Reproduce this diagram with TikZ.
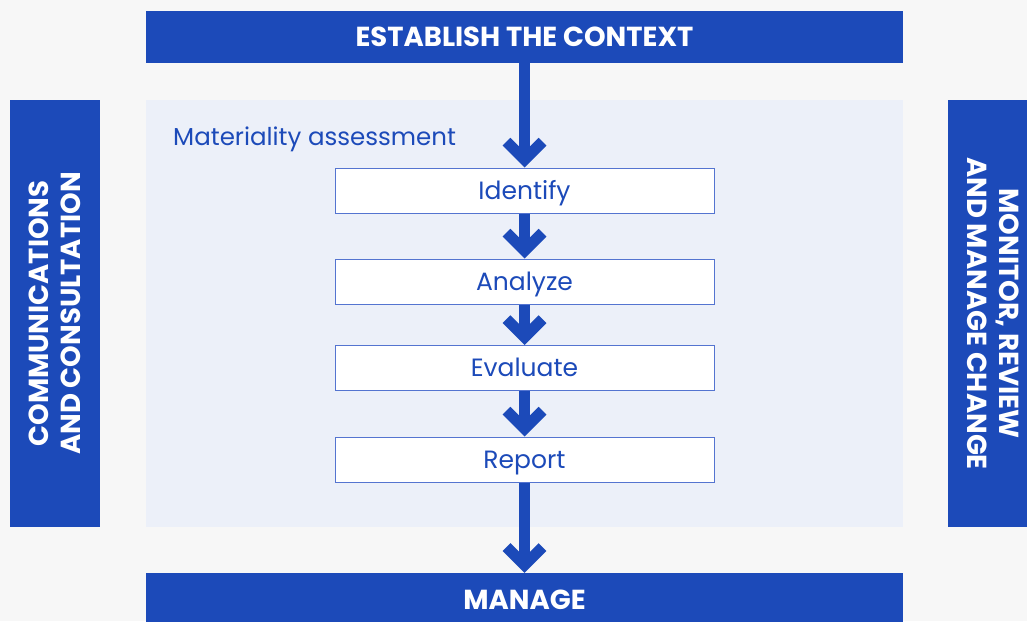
\documentclass[tikz,border=0pt]{standalone}
\usepackage{fontspec}
\setmainfont{Poppins}
\usetikzlibrary{arrows.meta}

\definecolor{riskblue}{RGB}{28,74,185}
\definecolor{panelblue}{RGB}{236,240,249}
\definecolor{pagegray}{RGB}{247,247,247}
\definecolor{edgeblue}{RGB}{84,116,208}

\tikzset{
  banner/.style={fill=riskblue, text=white, inner sep=0pt, text height=19.5pt, text depth=0pt,
    font=\bfseries\fontsize{27.5}{32}\selectfont},
  sidebar/.style={fill=riskblue, text=white, inner sep=0pt, align=center,
    font=\bfseries\fontsize{27.5}{31.5}\selectfont},
  stage/.style={draw=edgeblue, line width=1pt, fill=white, text=riskblue, inner sep=0pt,
    minimum width=379pt, minimum height=45pt, text height=17.5pt, text depth=0pt,
    font=\fontsize{25}{29}\selectfont},
  flow/.style={draw=riskblue, line width=11pt, -{Straight Barb[length=18pt, width=36pt]}}
}

\begin{document}
\begin{tikzpicture}[x=1pt, y=-1pt]
\useasboundingbox (0, 0) rectangle (1027, 621);
\fill[pagegray] (0, 0) rectangle (1027, 621);

\node[fill=panelblue, minimum width=757pt, minimum height=427pt, inner sep=0pt] (panel) at (524.5, 313.5) {};
\node[anchor=base west, text=riskblue, inner sep=0pt, font=\fontsize{24.5}{28}\selectfont] (label) at (173, 145) {Materiality assessment};

\node[banner, minimum width=757pt, minimum height=52pt] (context) at (524.5, 36.5) {ESTABLISH THE CONTEXT};
\node[banner, minimum width=757pt, minimum height=54pt] (manage) at (524.5, 600) {MANAGE};

\node[sidebar, rotate=90, minimum width=427pt, minimum height=90pt] (comms) at (55, 313.5) {COMMUNICATIONS\\AND CONSULTATION};
\node[sidebar, rotate=-90, minimum width=427pt, minimum height=90pt] (monitor) at (993, 313.5) {MONITOR, REVIEW\\AND MANAGE CHANGE};

\node[stage] (identify) at (524.5, 190.5) {Identify};
\node[stage] (analyze) at (524.5, 281.5) {Analyze};
\node[stage] (evaluate) at (524.5, 368) {Evaluate};
\node[stage] (report) at (524.5, 459.5) {Report};

\draw[flow] (context) -- (identify);
\draw[flow] (identify) -- (analyze);
\draw[flow] (analyze) -- (evaluate);
\draw[flow] (evaluate) -- (report);
\draw[flow] (report) -- (manage);
\end{tikzpicture}
\end{document}
